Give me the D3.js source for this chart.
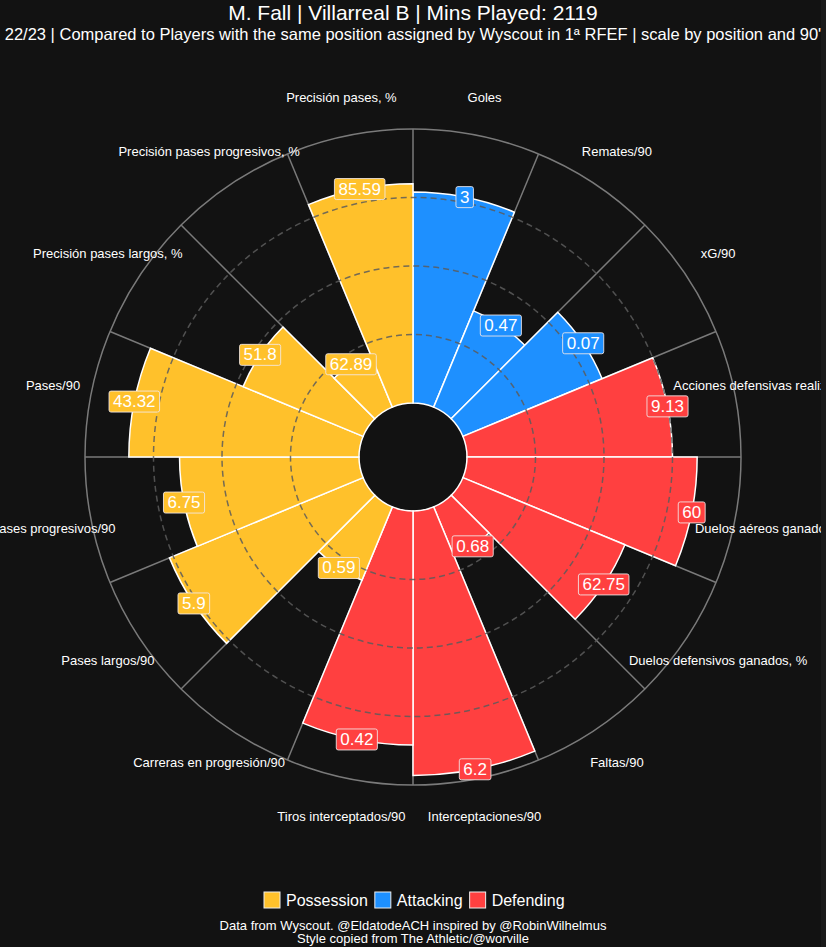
<!DOCTYPE html>
<html>
<head>
<meta charset="utf-8">
<script src="https://cdn.jsdelivr.net/npm/d3@7"></script>
<style>
html,body{margin:0;padding:0;background:#121212;overflow:hidden;}
svg{display:block;}
</style>
</head>
<body>
<svg id="chart" width="826" height="947"></svg>
<script>
// ---- data (clockwise from 12 o'clock) ----
const categories = [
  "Goles", "Remates/90", "xG/90", "Acciones defensivas realizadas/90",
  "Duelos aéreos ganados, %", "Duelos defensivos ganados, %", "Faltas/90",
  "Interceptaciones/90", "Tiros interceptados/90", "Carreras en progresión/90",
  "Pases largos/90", "Pases progresivos/90", "Pases/90",
  "Precisión pases largos, %", "Precisión pases progresivos, %", "Precisión pases, %"
];
const percentiles = [77, 38, 55, 75, 84, 64, 19.5, 96.5, 85.4, 29, 76.5, 65.5, 84, 47.4, 21, 80];
const rawValues = ["3", "0.47", "0.07", "9.13", "60", "62.75", "0.68", "6.2", "0.42", "0.59", "5.9", "6.75", "43.32", "51.8", "62.89", "85.59"];
const groups = ["Attacking","Attacking","Attacking","Defending","Defending","Defending","Defending","Defending","Defending",
  "Possession","Possession","Possession","Possession","Possession","Possession","Possession"];
const legendGroups = ["Possession", "Attacking", "Defending"];
const groupColors = ["#ffc12b", "#1e90ff", "#ff4040"];
const gridTicks = [25, 50, 75];
const title = "M. Fall | Villarreal B | Mins Played: 2119";
const subtitle = "22/23 | Compared to Players with the same position assigned by Wyscout in 1ª RFEF | scale by position and 90'";
const footer = ["Data from Wyscout. @EldatodeACH inspired by @RobinWilhelmus", "Style copied from The Athletic/@worville"];

// ---- layout ----
const W = 826, H = 947, cx = 413, cy = 457;
const rInner = 54, rOuter = 328, rLabel = 367;
const svg = d3.select("#chart");
const font = "'Liberation Sans', Arial, sans-serif";

svg.append("rect").attr("width", W).attr("height", H).attr("fill", "#121212");
svg.append("rect").attr("x", 821).attr("width", 5).attr("height", H).attr("fill", "#1a1a1a");

const clip = svg.append("clipPath").attr("id", "pclip");
clip.append("rect").attr("width", 821).attr("height", H);

const color = d3.scaleOrdinal().domain(legendGroups).range(groupColors);
const r = d3.scaleLinear().domain([0, 100]).range([rInner, rOuter]);
const ang = d3.scaleBand().domain(categories).range([0, 2 * Math.PI]).paddingInner(0).paddingOuter(0);

const g = svg.append("g").attr("clip-path", "url(#pclip)").append("g").attr("transform", `translate(${cx},${cy})`);

// radial grid lines
g.selectAll("line.spoke").data(categories).join("line")
  .attr("x1", d => r(0) * Math.sin(ang(d)))
  .attr("y1", d => -r(0) * Math.cos(ang(d)))
  .attr("x2", d => r(100) * Math.sin(ang(d)))
  .attr("y2", d => -r(100) * Math.cos(ang(d)))
  .attr("stroke", "#7a7a7a").attr("stroke-width", 1.5);

// outer circle
g.append("circle").attr("r", r(100)).attr("fill", "none").attr("stroke", "#7a7a7a").attr("stroke-width", 1.5);

// bars
const arc = d3.arc()
  .innerRadius(r(0))
  .outerRadius(d => r(d.p))
  .startAngle(d => ang(d.c))
  .endAngle(d => ang(d.c) + ang.bandwidth());

const rows = categories.map((c, i) => ({ c, p: percentiles[i], v: rawValues[i], grp: groups[i] }));

g.selectAll("path.bar").data(rows).join("path")
  .attr("d", arc)
  .attr("fill", d => color(d.grp))
  .attr("stroke", "#ffffff").attr("stroke-width", 1.5).attr("stroke-linejoin", "miter");

// dashed grid circles
g.selectAll("circle.grid").data(gridTicks).join("circle")
  .attr("r", d => r(d)).attr("fill", "none")
  .attr("stroke", "#5c5c5c").attr("stroke-opacity", 0.85)
  .attr("stroke-width", 1.5).attr("stroke-dasharray", "6,4");

// value labels
const vl = g.selectAll("g.val").data(rows).join("g")
  .attr("transform", d => {
    const a = ang(d.c) + ang.bandwidth() / 2;
    return `translate(${r(d.p) * Math.sin(a)},${-r(d.p) * Math.cos(a)})`;
  });
vl.append("rect");
vl.append("text").text(d => d.v)
  .attr("text-anchor", "middle").attr("dominant-baseline", "central")
  .attr("font-family", font).attr("font-size", 17).attr("fill", "#ffffff");
vl.each(function () {
  const t = d3.select(this).select("text").node().getBBox();
  d3.select(this).select("rect")
    .attr("x", t.x - 4).attr("y", -10.5).attr("width", t.width + 8).attr("height", 21)
    .attr("rx", 2)
    .attr("fill", d => color(d.grp))
    .attr("stroke", "#f2e9e9").attr("stroke-opacity", 0.85).attr("stroke-width", 1);
});

// category labels
g.selectAll("text.cat").data(categories).join("text")
  .attr("x", d => rLabel * Math.sin(ang(d) + ang.bandwidth() / 2))
  .attr("y", d => -rLabel * Math.cos(ang(d) + ang.bandwidth() / 2))
  .attr("text-anchor", "middle").attr("dominant-baseline", "central")
  .attr("font-family", font).attr("font-size", 13).attr("fill", "#ffffff")
  .text(d => d);

// titles
svg.append("text").attr("x", 413).attr("y", 12).attr("text-anchor", "middle").attr("dominant-baseline", "central")
  .attr("font-family", font).attr("font-size", 21).attr("fill", "#ffffff").text(title);
svg.append("text").attr("x", 413).attr("y", 34).attr("text-anchor", "middle").attr("dominant-baseline", "central")
  .attr("font-family", font).attr("font-size", 16.5).attr("fill", "#ffffff").text(subtitle);

// legend
const legend = svg.append("g");
let lx = 264;
legendGroups.forEach((grp, i) => {
  legend.append("rect").attr("x", lx).attr("y", 892).attr("width", 16).attr("height", 16)
    .attr("fill", color(grp)).attr("stroke", "#eeeeee").attr("stroke-width", 1);
  const t = legend.append("text").attr("x", lx + 22).attr("y", 900).attr("dominant-baseline", "central")
    .attr("font-family", font).attr("font-size", 16).attr("fill", "#ffffff").text(grp);
  lx += 22 + t.node().getComputedTextLength() + 7;
});

// footer
footer.forEach((line, i) => {
  svg.append("text").attr("x", 413).attr("y", 925.5 + i * 12.5).attr("text-anchor", "middle").attr("dominant-baseline", "central")
    .attr("font-family", font).attr("font-size", 13).attr("fill", "#ffffff").text(line);
});
</script>
</body>
</html>
